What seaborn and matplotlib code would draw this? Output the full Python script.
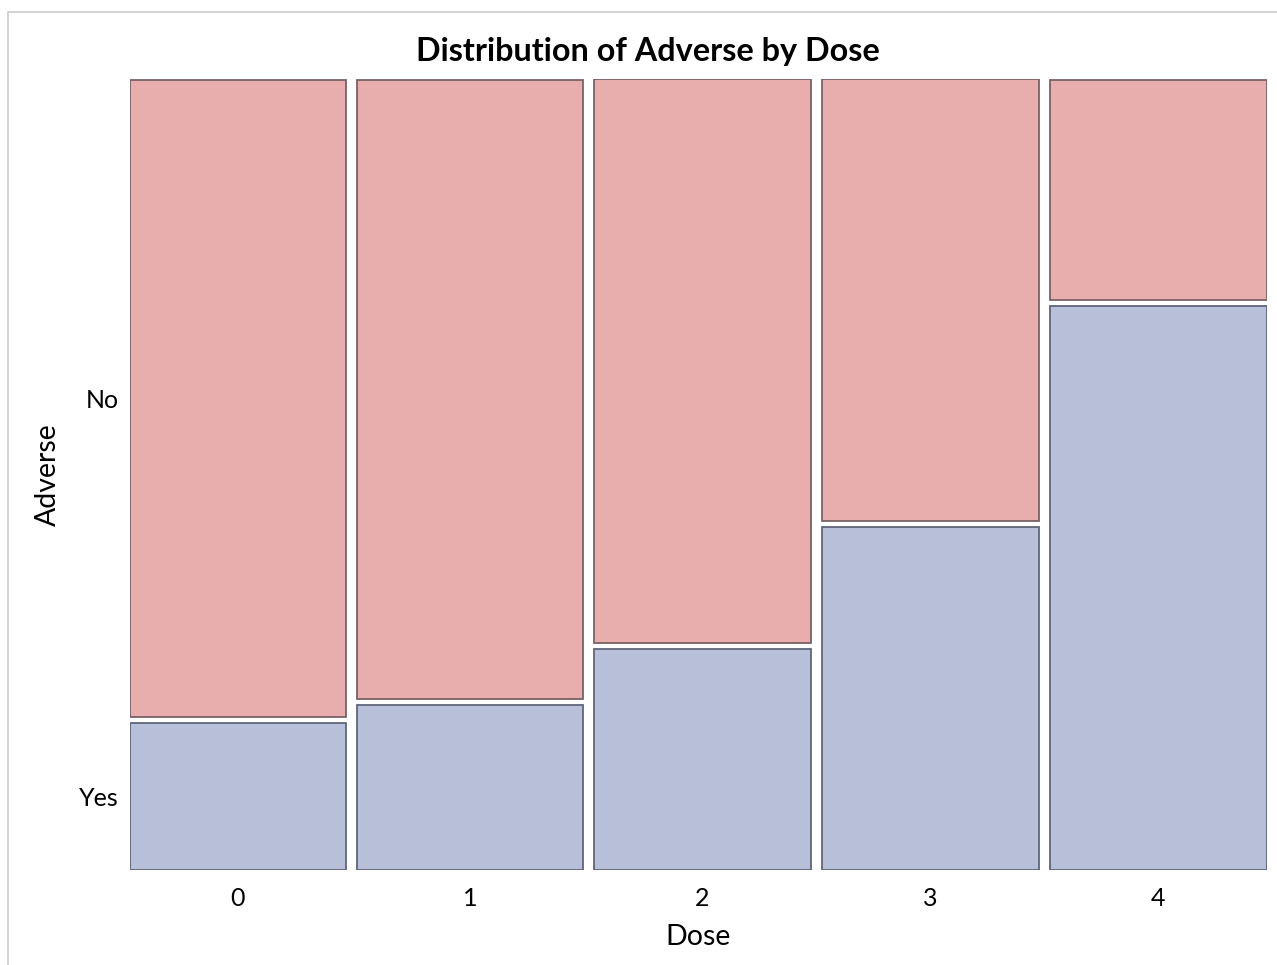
import numpy as np
import matplotlib
matplotlib.use('Agg')
import matplotlib.pyplot as plt
import seaborn as sns
from matplotlib.patches import Rectangle

# Data: counts per dose level
doses = ['0', '1', '2', '3', '4']
yes_counts = [18, 21, 27, 42, 69]
no_counts = [78, 79, 69, 54, 27]
adverse_levels = ['Yes', 'No']

sns.set_style('white')
plt.rcParams['font.family'] = ['Lato', 'DejaVu Sans']
plt.rcParams['text.color'] = 'black'

fill_colors = {'Yes': '#B8BFD9', 'No': '#E8ADAD'}
edge_colors = {'Yes': '#60657A', 'No': '#7A6266'}

W, H = 1277, 965
fig = plt.figure(figsize=(W / 100, H / 100), dpi=100)
ax = fig.add_axes([129.5 / W, (H - 870) / H, (1266.5 - 129.5) / W, (870 - 79.5) / H])

# outer frame (partly off the image, like the reference)
fig.patches.append(Rectangle((8 / W, -0.1), 1.2, (H - 12) / H + 0.1, transform=fig.transFigure,
                             fill=False, edgecolor='#D0D0D0', linewidth=1.3))

yes = np.array(yes_counts, dtype=float)
no = np.array(no_counts, dtype=float)
totals = yes + no
gx = 11 / 1137
gy = 6 / 790.5
widths = totals / totals.sum() * (1 - gx * (len(doses) - 1))
lefts = np.concatenate([[0], np.cumsum(widths + gx)[:-1]])
centers = lefts + widths / 2

yes_h = yes / totals * (1 - gy)
no_h = no / totals * (1 - gy)

ax.bar(lefts, yes_h, width=widths, align='edge', bottom=0,
       color=fill_colors['Yes'], edgecolor=edge_colors['Yes'], linewidth=1.3)
ax.bar(lefts, no_h, width=widths, align='edge', bottom=yes_h + gy,
       color=fill_colors['No'], edgecolor=edge_colors['No'], linewidth=1.3)

ax.set_xlim(0, 1)
ax.set_ylim(0, 1)
ax.set_xticks(centers)
ax.set_xticklabels(doses)
ax.set_yticks([yes_h[0] / 2, yes_h[0] + gy + no_h[0] / 2])
ax.set_yticklabels(adverse_levels)
ax.tick_params(axis='both', length=0, labelsize=18, colors='black')
ax.tick_params(axis='x', pad=12.5)
ax.tick_params(axis='y', pad=8)
for s in ax.spines.values():
    s.set_visible(False)

ax.set_xlabel('Dose', fontsize=20.5, labelpad=9.5, color='black')
ax.set_ylabel('Adverse', fontsize=20.5, labelpad=13, color='black')
fig.text(648 / W, 1 - 51 / H, 'Distribution of Adverse by Dose', ha='center', va='center',
         fontsize=23.3, fontweight='bold', color='black')

fig.savefig('out.png', dpi=100, facecolor='white')
